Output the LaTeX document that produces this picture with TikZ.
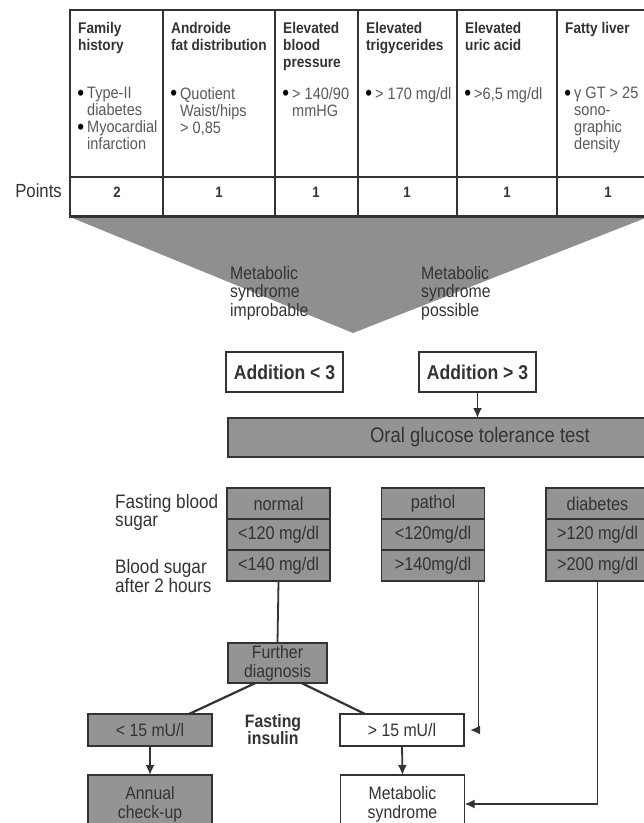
\documentclass[tikz,border=0pt]{standalone}
\usepackage{fontspec}
\setmainfont{Liberation Sans}[FakeStretch=0.88]
\usepackage{tikz}
\usetikzlibrary{arrows.meta,positioning}

\definecolor{boxgray}{gray}{0.58}
\definecolor{trigray}{gray}{0.56}
\definecolor{inkgray}{gray}{0.2}
\definecolor{bodygray}{gray}{0.35}
\newcommand\bul{\llap{\raisebox{-1.5pt}{\textcolor{black}{\fontsize{22}{17}\selectfont\textbullet}}\hspace{3pt}}}

\tikzset{
  gridline/.style={draw=inkgray,line width=1.4pt},
  conn/.style={draw=inkgray,line width=1.8pt},
  graybox/.style={draw=inkgray,fill=boxgray,line width=1.5pt,text=inkgray,
    inner sep=0pt,outer sep=0pt,align=center},
  whitebox/.style={draw=inkgray,fill=white,line width=1.5pt,text=inkgray,
    inner sep=0pt,outer sep=0pt,align=center},
  headtext/.style={anchor=north west,inner sep=0pt,align=left,text=inkgray,
    font=\fontsize{15.5}{17}\selectfont\bfseries},
  bodytext/.style={anchor=north west,inner sep=0pt,align=left,text=bodygray,
    font=\fontsize{16.5}{17}\selectfont},
  pointtext/.style={inner sep=0pt,text=inkgray,font=\fontsize{15}{17}\selectfont\bfseries},
  trilabel/.style={anchor=north west,inner sep=0pt,align=left,text=inkgray,
    font=\fontsize{18}{18.5}\selectfont},
  sidetext/.style={anchor=north west,inner sep=0pt,align=left,text=inkgray,
    font=\fontsize{19.5}{18}\selectfont},
  addbox/.style={minimum width=117pt,minimum height=40pt,
    font=\fontsize{20}{22}\selectfont\bfseries},
  glubox/.style={graybox,minimum width=103pt,minimum height=31pt,
    font=\fontsize{18.5}{20}\selectfont},
  mubox/.style={minimum width=124pt,minimum height=32pt,
    font=\fontsize{18}{20}\selectfont},
  endbox/.style={minimum width=124pt,minimum height=58pt,
    font=\fontsize{18}{19}\selectfont},
}

\begin{document}
\begin{tikzpicture}[x=1pt,y=-1pt,>={Latex[length=10pt,width=9pt]}]
  \useasboundingbox (0,0) rectangle (644,823);
  \clip (0,0) rectangle (644,823);

  % score table and funnel
  \fill[trigray] (70,217) -- (648,217) -- (353,333) -- cycle;
  \draw[gridline] (70,10) rectangle (660,217);
  \draw[gridline] (70,177) -- (660,177);
  \draw[inkgray,line width=3pt] (70,216) -- (660,216);
  \foreach \cx/\cc/\nm/\pt/\hd/\bd in {
    70/117/fam/2/{Family\\history}/{\bul Type-II\\diabetes\\ \bul Myocardial\\infarction},
    163/219/fat/1/{Androide\\fat distribution}/{\bul Quotient\\Waist/hips\\> 0,85},
    275/316/bp/1/{Elevated\\blood\\pressure}/{\bul > 140/90\\mmHG},
    358/407/tg/1/{Elevated\\trigycerides}/{\bul > 170 mg/dl},
    457/507/ua/1/{Elevated\\uric acid}/{\bul >6,5 mg/dl},
    557/608/liv/1/{Fatty liver}/{\bul γ GT > 25\\sono-\\graphic\\density}}
  {
    \draw[gridline] (\cx,10) -- (\cx,217);
    \node[headtext] (head\nm) at (\cx+8,22) {\hd};
    \node[bodytext] (body\nm) at (\cx+17,87) {\bd};
    \node[pointtext] (pts\nm) at (\cc,192) {\pt};
  }
  \node[inner sep=0pt,anchor=east,text=inkgray,font=\fontsize{19}{20}\selectfont]
    (pointslbl) at (62,191) {Points};

  \node[trilabel] (improb) at (230,266) {Metabolic\\syndrome\\improbable};
  \node[trilabel] (possib) at (421,266) {Metabolic\\syndrome\\possible};

  % sum of points
  \node[whitebox,addbox] (addlt) at (284.5,372) {Addition < 3};
  \node[whitebox,addbox] (addgt) at (477.5,372) {Addition > 3};
  \node[graybox,minimum width=504pt,minimum height=39pt,
    font=\fontsize{21}{22}\selectfont] (ogtt) at (480,437.5) {Oral glucose tolerance test};
  \draw[->,conn] (addgt.south) -- (addgt.south |- ogtt.north);

  % glucose results
  \foreach \sx/\nm/\ra/\rb/\rc in {
    278.5/norm/normal/{<120 mg/dl}/{<140 mg/dl},
    433/path/pathol/{<120mg/dl}/{>140mg/dl},
    597.5/diab/diabetes/{>120 mg/dl}/{>200 mg/dl}}
  {
    \node[glubox] (\nm1) at (\sx,503.5) {\ra};
    \node[glubox,below=0pt of \nm1] (\nm2) {\rb};
    \node[glubox,below=0pt of \nm2] (\nm3) {\rc};
  }
  \node[sidetext] (fbs) at (115,494) {Fasting blood\\sugar};
  \node[sidetext] (bs2h) at (115,559) {Blood sugar\\after 2 hours};

  % insulin
  \node[graybox,minimum width=99pt,minimum height=40pt,
    font=\fontsize{18}{19}\selectfont] (further) at (277.5,663) {Further\\diagnosis};
  \draw[conn] (norm3.south) -- (further.north);
  \node[graybox,mubox] (lt15) at (150,730) {< 15 mU/l};
  \node[whitebox,mubox] (gt15) at (402,730) {> 15 mU/l};
  \node[inner sep=0pt,align=center,text=inkgray,
    font=\fontsize{18}{17}\selectfont\bfseries] (insulin) at (273,730) {Fasting\\insulin};
  \draw[conn,line width=2.2pt] ([xshift=-22pt]further.south) -- ([xshift=39pt]lt15.north);
  \draw[conn,line width=2.2pt] ([xshift=24pt]further.south) -- ([xshift=-37pt]gt15.north);

  \node[graybox,endbox] (annual) at (150,804) {Annual\\check-up};
  \node[whitebox,endbox] (metasyn) at (402.5,804) {Metabolic\\syndrome};
  \draw[->,conn] (lt15.south) -- (annual.north);
  \draw[->,conn] (gt15.south) -- (metasyn.north);
  \draw[->,conn] ([xshift=-6pt]path3.south east) |- ([xshift=6pt]gt15.east);
  \draw[->,conn] (diab3.south) |- (metasyn.east);
\end{tikzpicture}
\end{document}
